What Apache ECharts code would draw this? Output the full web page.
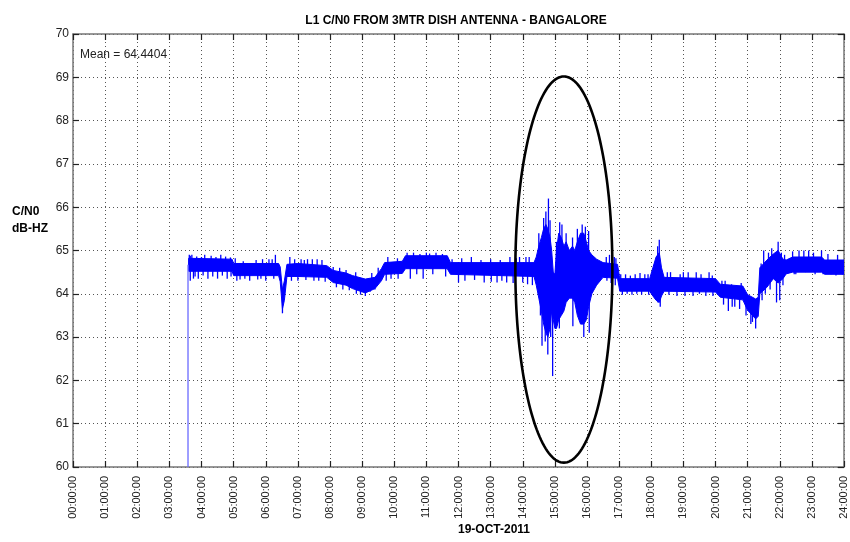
<!DOCTYPE html>
<html>
<head>
<meta charset="utf-8">
<script src="https://cdn.jsdelivr.net/npm/echarts@6/dist/echarts.min.js"></script>
<style>
  html, body { margin: 0; padding: 0; background: #fff; }
  #chart { width: 850px; height: 542px; }
</style>
</head>
<body>
<div id="chart"></div>
<script>
// core band of the C/N0 trace (hours, lower edge, upper edge)
var times  = [3.60, 4.95, 5.00, 6.40, 6.45, 6.52, 6.58, 6.66, 7.00, 7.90, 8.10, 8.50, 8.70, 9.10, 9.40, 9.60, 9.70, 10.25, 10.35, 11.65, 11.75, 14.35,
  14.42, 14.50, 14.58, 14.65, 14.72, 14.78, 14.85, 14.90, 14.95, 15.00, 15.05, 15.12, 15.20, 15.28, 15.35, 15.45, 15.55, 15.62, 15.70, 15.80, 15.90, 15.98, 16.05, 16.15, 16.30, 16.50,
  16.95, 17.02, 17.95, 18.05, 18.15, 18.25, 18.32, 18.40, 20.00, 20.15, 20.85, 21.00, 21.25, 21.33, 21.38, 21.60, 21.80, 21.95, 22.10, 22.20, 22.40, 23.30, 23.40, 24.00];
var coreLo = [64.52, 64.52, 64.42, 64.42, 64.28, 63.65, 63.85, 64.40, 64.40, 64.38, 64.26, 64.20, 64.12, 64.02, 64.12, 64.30, 64.45, 64.47, 64.58, 64.58, 64.45, 64.40,
  64.20, 63.90, 63.60, 63.30, 63.10, 63.00, 63.20, 63.60, 63.40, 63.20, 63.20, 63.40, 63.50, 63.60, 63.80, 63.90, 63.90, 63.80, 63.50, 63.30, 63.30, 63.40, 63.70, 64.00, 64.20, 64.38,
  64.36, 64.06, 64.06, 63.95, 63.85, 63.80, 63.95, 64.06, 64.04, 63.92, 63.86, 63.62, 63.42, 63.48, 64.00, 64.15, 64.35, 64.25, 64.35, 64.46, 64.50, 64.50, 64.45, 64.45];
var coreHi = [64.82, 64.80, 64.70, 64.70, 64.62, 64.10, 64.30, 64.68, 64.70, 64.65, 64.54, 64.48, 64.42, 64.34, 64.38, 64.58, 64.72, 64.75, 64.88, 64.88, 64.72, 64.72,
  64.85, 65.10, 65.30, 65.50, 65.60, 65.50, 65.30, 65.00, 64.50, 64.45, 65.00, 65.40, 65.30, 65.10, 65.20, 65.00, 65.10, 65.00, 65.20, 65.40, 65.40, 65.20, 65.00, 64.90, 64.80, 64.72,
  64.68, 64.35, 64.35, 64.60, 64.85, 64.95, 64.60, 64.38, 64.35, 64.22, 64.18, 63.98, 63.88, 63.92, 64.60, 64.78, 64.92, 65.00, 64.80, 64.78, 64.85, 64.85, 64.78, 64.78];

// isolated spikes (hour, value)
var spikeHours = [3.58, 3.62, 3.65, 3.65, 3.70, 3.75, 3.80, 3.85, 3.90, 4.00, 4.05, 4.10, 4.20, 4.30, 4.35, 4.45, 4.50, 4.60, 4.65, 4.75, 4.80, 4.90, 4.92,
  5.05, 5.10, 5.20, 5.30, 5.35, 5.50, 5.70, 5.75, 5.85, 5.90, 6.00, 6.10, 6.20, 6.25, 6.30, 6.52,
  6.75, 6.80, 6.90, 7.00, 7.10, 7.20, 7.25, 7.30, 7.45, 7.50, 7.60, 7.65, 7.75, 7.85,
  8.10, 8.20, 8.30, 8.40, 8.50, 8.60, 8.80, 8.82, 8.95, 9.10, 9.25, 9.30, 9.40, 9.50,
  9.75, 9.80, 9.90, 10.10, 10.12, 10.40, 10.50, 10.60, 10.70, 10.80, 10.90, 11.00, 11.10, 11.20, 11.30, 11.50, 11.60,
  11.80, 12.00, 12.10, 12.20, 12.40, 12.50, 12.70, 12.80, 13.00, 13.02, 13.20, 13.30, 13.35, 13.50, 13.60, 13.70, 13.80, 13.90, 14.00, 14.10, 14.15, 14.20, 14.30,
  14.50, 14.55, 14.60, 14.65, 14.70, 14.72, 14.78, 14.80, 14.85, 14.87, 14.93, 15.05, 15.14, 15.15, 15.22, 15.35, 15.55, 15.56, 15.70, 15.85, 15.90, 15.95, 16.05, 16.07,
  16.60, 16.62, 16.70, 16.75, 16.85, 16.88, 16.90,
  17.05, 17.10, 17.20, 17.25, 17.35, 17.40, 17.50, 17.55, 17.65, 17.70, 17.80, 17.90, 17.92,
  18.20, 18.21, 18.25, 18.28, 18.50, 18.55, 18.60, 18.80, 18.90, 19.00, 19.05, 19.15, 19.30, 19.40, 19.50, 19.55, 19.70, 19.80, 19.90, 19.92,
  20.20, 20.25, 20.30, 20.40, 20.50, 20.52, 20.60, 20.75, 20.80, 20.95, 21.10, 21.15, 21.25,
  21.42, 21.45, 21.50, 21.55, 21.65, 21.70, 21.75, 21.90, 21.95, 22.00, 22.05, 22.10, 22.15,
  22.40, 22.45, 22.50, 22.60, 22.75, 22.80, 22.90, 23.05, 23.10, 23.30, 23.35, 23.50, 23.60, 23.75, 23.80, 23.95];
var spikeValues = [60.00, 64.90, 64.88, 64.30, 64.90, 64.35, 64.40, 64.86, 64.35, 64.85, 64.42, 64.90, 64.35, 64.88, 64.40, 64.85, 64.35, 64.90, 64.42, 64.86, 64.35, 64.84, 64.40,
  64.82, 64.30, 64.33, 64.75, 64.35, 64.30, 64.78, 64.33, 64.35, 64.80, 64.30, 64.80, 64.80, 64.35, 64.90, 63.55,
  64.85, 64.30, 64.80, 64.30, 64.80, 64.78, 64.32, 64.80, 64.80, 64.30, 64.80, 64.30, 64.78, 64.28,
  64.62, 64.15, 64.60, 64.10, 64.55, 64.08, 64.50, 64.00, 63.98, 63.95, 64.05, 64.48, 64.10, 64.60,
  64.30, 64.85, 64.35, 64.82, 64.35, 64.95, 64.35, 64.95, 64.45, 64.92, 64.35, 64.95, 64.93, 64.45, 64.95, 64.92, 64.40,
  64.80, 64.26, 64.82, 64.30, 64.85, 64.32, 64.78, 64.26, 64.80, 64.28, 64.26, 64.78, 64.30, 64.26, 64.85, 64.25, 64.82, 64.85, 64.26, 64.85, 64.22, 64.85, 64.20,
  65.40, 63.50, 62.80, 65.75, 62.90, 65.90, 62.60, 66.20, 65.70, 63.00, 62.10, 65.20, 63.20, 65.65, 65.60, 65.40, 65.30, 63.25, 65.50, 65.60, 63.00, 65.55, 65.45, 63.10,
  64.85, 64.30, 64.90, 64.25, 64.85, 64.20, 64.82,
  64.45, 63.98, 64.45, 64.00, 64.42, 63.98, 64.45, 64.00, 64.48, 63.98, 64.45, 64.45, 63.98,
  65.10, 63.80, 65.25, 63.70, 64.50, 63.98, 64.50, 63.95, 64.45, 64.50, 63.95, 64.50, 63.95, 64.50, 64.00, 64.45, 63.95, 64.50, 64.42, 63.95,
  64.30, 63.75, 64.30, 63.60, 64.22, 63.70, 63.70, 63.65, 64.25, 63.50, 63.30, 63.35, 63.20,
  64.70, 63.85, 65.00, 64.00, 64.95, 64.10, 65.05, 63.80, 65.20, 63.85, 64.95, 64.20, 64.90,
  64.98, 64.45, 64.45, 65.00, 65.00, 64.50, 65.00, 64.95, 64.45, 65.00, 64.45, 64.92, 64.45, 64.42, 64.90, 64.45];

// circled region: hour range and value range
var circleHours = [13.77, 16.79];
var circleValues = [60.1, 69.02];

var yTicks = [60, 70, 1];
var xTicks = [0, 24, 1];
var meanText = 'Mean = 64.4404';

var chart = echarts.init(document.getElementById('chart'));

function pad(n) { return (n < 10 ? '0' : '') + n; }

function nearestCore(t) {
    var best = 0;
    for (var i = 1; i < times.length; i++) {
        if (Math.abs(times[i] - t) < Math.abs(times[best] - t)) best = i;
    }
    return best;
}

var spikeData = spikeHours.map(function (h, i) { return [h, spikeValues[i]]; });

var font = 'Liberation Sans, Arial, sans-serif';

var option = {
    backgroundColor: '#fff',
    animation: false,
    grid: { left: 73, right: 6, top: 34, bottom: 75 },
    title: {
        text: 'L1 C/N0 FROM 3MTR DISH ANTENNA - BANGALORE',
        left: 451, top: 10, textAlign: 'center',
        textStyle: { fontFamily: font, fontSize: 12, fontWeight: 'bold', color: '#000' }
    },
    graphic: [
        { type: 'text', left: 12, top: 203, style: { text: 'C/N0\ndB-HZ', font: 'bold 12px ' + font, fill: '#000', lineHeight: 17 } },
        { type: 'text', left: 80, top: 49, style: { text: meanText, font: '12px ' + font, fill: '#222' } },
        { type: 'text', left: 458, top: 524, style: { text: '19-OCT-2011', font: 'bold 12px ' + font, fill: '#000', textAlign: 'center' } }
    ],
    xAxis: [{
        type: 'value', min: xTicks[0], max: xTicks[1], interval: xTicks[2],
        axisLine: { onZero: false, lineStyle: { color: '#777', width: 1.5 } },
        axisTick: { inside: true, length: 6, lineStyle: { color: '#222', width: 1.2 } },
        axisLabel: {
            rotate: 90, fontFamily: font, fontSize: 11, color: '#222', margin: 9,
            formatter: function (v) { return pad(v) + ':00:00'; }
        },
        splitLine: { show: true, lineStyle: { color: '#555', type: [1, 3], width: 1 } }
    }, {
        type: 'value', position: 'top', min: xTicks[0], max: xTicks[1], interval: xTicks[2],
        axisLine: { onZero: false, lineStyle: { color: '#777', width: 1.5 } },
        axisTick: { inside: true, length: 6, lineStyle: { color: '#222', width: 1.2 } },
        axisLabel: { show: false }, splitLine: { show: false }
    }],
    yAxis: [{
        type: 'value', min: yTicks[0], max: yTicks[1], interval: yTicks[2],
        axisLine: { show: true, onZero: false, lineStyle: { color: '#777', width: 1.5 } },
        axisTick: { show: true, inside: true, length: 6, lineStyle: { color: '#222', width: 1.2 } },
        axisLabel: { fontFamily: font, fontSize: 12, color: '#222', margin: 4 },
        splitLine: { show: true, lineStyle: { color: '#555', type: [1, 3], width: 1 } }
    }, {
        type: 'value', position: 'right', min: yTicks[0], max: yTicks[1], interval: yTicks[2],
        axisLine: { show: true, onZero: false, lineStyle: { color: '#777', width: 1.5 } },
        axisTick: { show: true, inside: true, length: 6, lineStyle: { color: '#222', width: 1.2 } },
        axisLabel: { show: false }, splitLine: { show: false }
    }],
    series: [{
        type: 'custom',
        name: 'band',
        data: [[times[0], coreLo[0]]],
        encode: { x: 0, y: 1 },
        clip: true,
        renderItem: function (params, api) {
            var pts = [];
            for (var i = 0; i < times.length; i++) pts.push(api.coord([times[i], coreHi[i]]));
            for (var j = times.length - 1; j >= 0; j--) pts.push(api.coord([times[j], coreLo[j]]));
            return { type: 'polygon', shape: { points: pts }, style: { fill: '#0000ff', stroke: '#0000ff', lineWidth: 1 } };
        }
    }, {
        type: 'custom',
        name: 'spikes',
        data: spikeData,
        encode: { x: 0, y: 1 },
        clip: true,
        renderItem: function (params, api) {
            var t = api.value(0), v = api.value(1);
            var k = nearestCore(t);
            var base = (coreLo[k] + coreHi[k]) / 2;
            var a = api.coord([t, base]), b = api.coord([t, v]);
            return { type: 'line', shape: { x1: a[0], y1: a[1], x2: b[0], y2: b[1] },
                     style: { stroke: v <= 60 ? '#6a6aff' : '#0000ff', lineWidth: 1.3 } };
        }
    }, {
        type: 'custom',
        name: 'circle',
        data: [[circleHours[0], circleValues[0]]],
        encode: { x: 0, y: 1 },
        clip: false,
        z: 10,
        renderItem: function (params, api) {
            var p0 = api.coord([circleHours[0], circleValues[0]]);
            var p1 = api.coord([circleHours[1], circleValues[1]]);
            var cx = (p0[0] + p1[0]) / 2, cy = (p0[1] + p1[1]) / 2;
            var rx = Math.abs(p1[0] - p0[0]) / 2, ry = Math.abs(p1[1] - p0[1]) / 2;
            var pts = [];
            for (var i = 0; i < 180; i++) {
                var a = i / 180 * Math.PI * 2;
                pts.push([cx + rx * Math.cos(a), cy + ry * Math.sin(a)]);
            }
            return { type: 'polygon', shape: { points: pts }, style: { fill: null, stroke: '#000', lineWidth: 2.6 } };
        }
    }]
};

chart.setOption(option);
</script>
</body>
</html>
